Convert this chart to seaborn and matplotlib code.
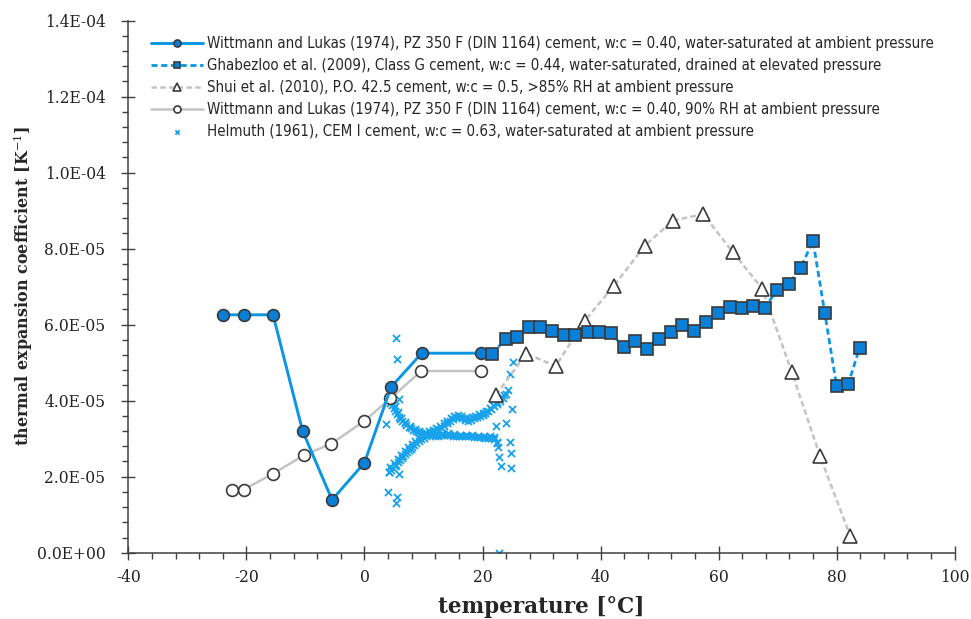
import numpy as np
import pandas as pd
import matplotlib
matplotlib.use("Agg")
import matplotlib.pyplot as plt
import seaborn as sns
from matplotlib.ticker import MultipleLocator, FuncFormatter

# ---------------- data ----------------
# Wittmann and Lukas (1974), water-saturated
wl_sat_T = [-24, -20.5, -15.5, -10.5, -5.5, 0, 4.5, 9.7, 19.7]
wl_sat_a = [6.26, 6.26, 6.26, 3.21, 1.39, 2.37, 4.36, 5.25, 5.25]  # 1e-5 /K

# Ghabezloo et al. (2009)
gh_T = [21.6, 23.9, 25.8, 27.8, 29.8, 31.8, 33.8, 35.7, 37.9, 39.8, 41.8,
        43.9, 45.8, 47.9, 49.9, 51.9, 53.8, 55.8, 57.8, 59.9, 61.9, 63.9,
        65.8, 67.8, 69.9, 71.9, 73.9, 76.0, 78.0, 80.0, 82.0, 83.9]
gh_a = [5.22, 5.63, 5.68, 5.94, 5.94, 5.83, 5.74, 5.74, 5.81, 5.81, 5.77,
        5.41, 5.56, 5.35, 5.62, 5.80, 5.99, 5.83, 6.07, 6.32, 6.47, 6.43,
        6.49, 6.44, 6.91, 7.07, 7.49, 8.21, 6.31, 4.39, 4.45, 5.39]

# Shui et al. (2010)
sh_T = [22.3, 27.4, 32.4, 37.3, 42.3, 47.5, 52.3, 57.4, 62.4, 67.4, 72.4, 77.2, 82.3]
sh_a = [4.15, 5.24, 4.91, 6.10, 7.03, 8.08, 8.74, 8.91, 7.91, 6.95, 4.76, 2.54, 0.45]

# Wittmann and Lukas (1974), 90% RH
wl_rh_T = [-22.5, -20.5, -15.5, -10.2, -5.6, 0, 4.4, 9.6, 19.7]
wl_rh_a = [1.66, 1.66, 2.08, 2.57, 2.87, 3.47, 4.06, 4.78, 4.78]

# Helmuth (1961)
helm_T = [
    # descending track
    4.4, 4.7, 5.0, 5.2, 5.5, 5.8, 6.1, 6.4, 6.8, 7.1, 7.5, 7.9, 8.3, 8.7, 9.1,
    9.5, 10.0, 10.5, 11.0, 11.5, 12.0, 12.5, 13.0, 13.5, 14.0, 14.5, 15.0,
    15.5, 16.0, 16.5, 17.0, 17.5, 18.0, 18.5, 19.0, 19.5, 20.0, 20.5, 21.0,
    21.5, 22.0, 22.4,
    4.6, 5.1, 5.6, 6.2, 6.9, 7.7, 8.5, 9.3, 10.2, 11.2, 12.2, 13.2, 14.2,
    15.2, 16.2, 17.2, 18.2, 19.2, 20.2, 21.2, 22.0,
    # rising track
    4.2, 4.5, 4.8, 5.1, 5.4, 5.7, 6.0, 6.3, 6.6, 6.9, 7.2, 7.5, 7.8, 8.1, 8.4,
    8.8, 9.2, 9.6, 10.0, 10.5, 11.0, 11.5, 12.0, 12.5, 13.0, 13.5, 14.0, 14.5,
    15.0, 15.5, 16.0, 16.5, 17.0, 17.5, 18.0, 18.5, 19.0, 19.5, 20.0, 20.5,
    21.0, 21.5, 22.0, 22.5, 23.0, 23.5, 24.0, 24.3,
    4.4, 5.0, 5.6, 6.2, 6.8, 7.4, 8.0, 8.6, 9.2, 9.8, 10.4, 11.0, 11.6, 12.2,
    12.8, 13.4, 14.0, 14.6, 15.2, 15.8, 16.4, 17.0, 17.6, 18.2, 18.8, 19.4,
    20.0, 20.6, 21.2, 21.8, 22.4, 23.0, 23.6,
    # scattered points
    5.3, 5.5, 5.9, 3.7, 3.9, 5.5, 5.3, 4.1, 5.8, 22.3, 23.9, 22.7, 22.8, 23.1,
    24.8, 24.8, 24.6, 25.0, 22.8, 24.6, 25.1, 22.5,
]
helm_a = [
    3.95, 3.88, 3.80, 3.72, 3.66, 3.58, 3.52, 3.46, 3.41, 3.36, 3.31, 3.27,
    3.23, 3.20, 3.17, 3.15, 3.13, 3.11, 3.10, 3.09, 3.08, 3.08, 3.09, 3.10,
    3.10, 3.09, 3.08, 3.08, 3.07, 3.07, 3.06, 3.06, 3.06, 3.05, 3.05, 3.04,
    3.04, 3.03, 3.02, 3.01, 3.00, 2.92,
    4.02, 3.86, 3.70, 3.55, 3.43, 3.33, 3.25, 3.19, 3.16, 3.14, 3.13, 3.12,
    3.14, 3.13, 3.11, 3.10, 3.09, 3.08, 3.07, 3.06, 3.05,
    2.12, 2.17, 2.22, 2.27, 2.32, 2.38, 2.43, 2.48, 2.54, 2.59, 2.64, 2.69,
    2.74, 2.79, 2.83, 2.88, 2.94, 2.99, 3.03, 3.08, 3.13, 3.17, 3.21, 3.25,
    3.29, 3.34, 3.40, 3.46, 3.52, 3.57, 3.58, 3.54, 3.49, 3.47, 3.50, 3.54,
    3.57, 3.60, 3.63, 3.67, 3.72, 3.78, 3.85, 3.92, 4.00, 4.08, 4.18, 4.28,
    2.25, 2.35, 2.46, 2.57, 2.68, 2.78, 2.87, 2.95, 3.02, 3.08, 3.14, 3.19,
    3.24, 3.29, 3.34, 3.40, 3.47, 3.54, 3.60, 3.63, 3.60, 3.55, 3.55, 3.58,
    3.61, 3.64, 3.68, 3.73, 3.80, 3.88, 3.97, 4.06, 4.15,
    5.64, 5.10, 4.04, 3.38, 1.59, 1.47, 1.32, 2.12, 2.07, 3.34, 3.42, 2.77,
    2.53, 2.29, 2.62, 2.23, 2.90, 3.77, 0.0, 4.69, 5.03, 2.89,
]

labels = [
    "Wittmann and Lukas (1974), PZ 350 F (DIN 1164) cement, w:c = 0.40, water-saturated at ambient pressure",
    "Ghabezloo et al. (2009), Class G cement, w:c = 0.44, water-saturated, drained at elevated pressure",
    "Shui et al. (2010), P.O. 42.5 cement, w:c = 0.5, >85% RH at ambient pressure",
    "Wittmann and Lukas (1974), PZ 350 F (DIN 1164) cement, w:c = 0.40, 90% RH at ambient pressure",
    "Helmuth (1961), CEM I cement, w:c = 0.63, water-saturated at ambient pressure",
]
x_label = "temperature [°C]"
y_label = "thermal expansion coefficient [K$^{-1}$]"

SCALE = 1e-5  # unit of the value lists

# ---------------- styling ----------------
sns.set_style("ticks")
plt.rcParams['font.family'] = ['DejaVu Serif']
plt.rcParams['mathtext.fontset'] = 'dejavuserif'

BLUE_LINE = "#0a96e3"
BLUE_FILL = "#0a7fd8"
EDGE = "#3a3a3a"
GRAY_LINE = "#c4c4c4"
AXC = "#404040"

fig = plt.figure(figsize=(9.71, 6.19), dpi=100)
ax = fig.add_axes([0.1323, 0.1071, 0.8508, 0.8595])

def df(T, a):
    return pd.DataFrame({"T": T, "a": np.asarray(a) * SCALE})

sns.lineplot(data=df(wl_sat_T, wl_sat_a), x="T", y="a", sort=False, estimator=None,
             ax=ax, color=BLUE_LINE, linewidth=2.1, marker="o", markersize=8.5,
             markerfacecolor=BLUE_FILL, markeredgecolor=EDGE, markeredgewidth=1.2,
             label=labels[0], zorder=4)
sns.lineplot(data=df(gh_T, gh_a), x="T", y="a", sort=False, estimator=None,
             ax=ax, color=BLUE_LINE, linewidth=2.0, linestyle="--", marker="s",
             markersize=8, markerfacecolor=BLUE_FILL, markeredgecolor=EDGE,
             markeredgewidth=1.2, label=labels[1], zorder=4)
sns.lineplot(data=df(sh_T, sh_a), x="T", y="a", sort=False, estimator=None,
             ax=ax, color=GRAY_LINE, linewidth=1.8, linestyle="--", marker="^",
             markersize=9.5, markerfacecolor="white", markeredgecolor=EDGE,
             markeredgewidth=1.2, label=labels[2], zorder=3)
sns.lineplot(data=df(wl_rh_T, wl_rh_a), x="T", y="a", sort=False, estimator=None,
             ax=ax, color=GRAY_LINE, linewidth=1.8, marker="o", markersize=8.5,
             markerfacecolor="white", markeredgecolor=EDGE, markeredgewidth=1.2,
             label=labels[3], zorder=3)
sns.scatterplot(data=df(helm_T, helm_a), x="T", y="a", ax=ax, marker="x",
                s=26, color="#19a2ec", linewidth=1.3, label=labels[4], zorder=2)

for ln in ax.get_lines():
    if ln.get_linestyle() == "--":
        ln.set_dashes((2.2, 1.3))

ax.set_xlim(-40, 100)
ax.set_ylim(0, 1.4e-4)
ax.xaxis.set_major_locator(MultipleLocator(20))
ax.xaxis.set_minor_locator(MultipleLocator(4))
ax.yaxis.set_major_locator(MultipleLocator(2e-5))
ax.yaxis.set_minor_locator(MultipleLocator(4e-6))
ax.yaxis.set_major_formatter(FuncFormatter(lambda v, p: f"{v:.1E}"))
ax.xaxis.set_major_formatter(FuncFormatter(lambda v, p: f"{v:.0f}"))

ax.tick_params(which="major", direction="inout", length=10, width=1, color=AXC,
               labelsize=11.2, labelcolor="#222222")
ax.tick_params(which="minor", direction="out", length=4.5, width=1, color=AXC)
ax.tick_params(axis="x", which="major", pad=7)
ax.tick_params(axis="y", which="major", pad=11.5)
for s in ["top", "right"]:
    ax.spines[s].set_visible(False)
for s in ["left", "bottom"]:
    ax.spines[s].set_color(AXC)
    ax.spines[s].set_linewidth(1.1)

ax.set_xlabel(x_label, fontsize=15.5, fontweight="bold", labelpad=7)
ax.set_ylabel(y_label, fontsize=11.5, fontweight="bold", labelpad=1)

leg = ax.legend(loc="upper left", bbox_to_anchor=(0.027, 0.971), frameon=False,
                prop={"family": "DejaVu Sans", "stretch": "condensed", "size": 10.8},
                handlelength=3.5, handletextpad=0.25, labelspacing=0.47,
                borderpad=0, borderaxespad=0, markerscale=0.6)

fig.savefig("out.png", dpi=100)
